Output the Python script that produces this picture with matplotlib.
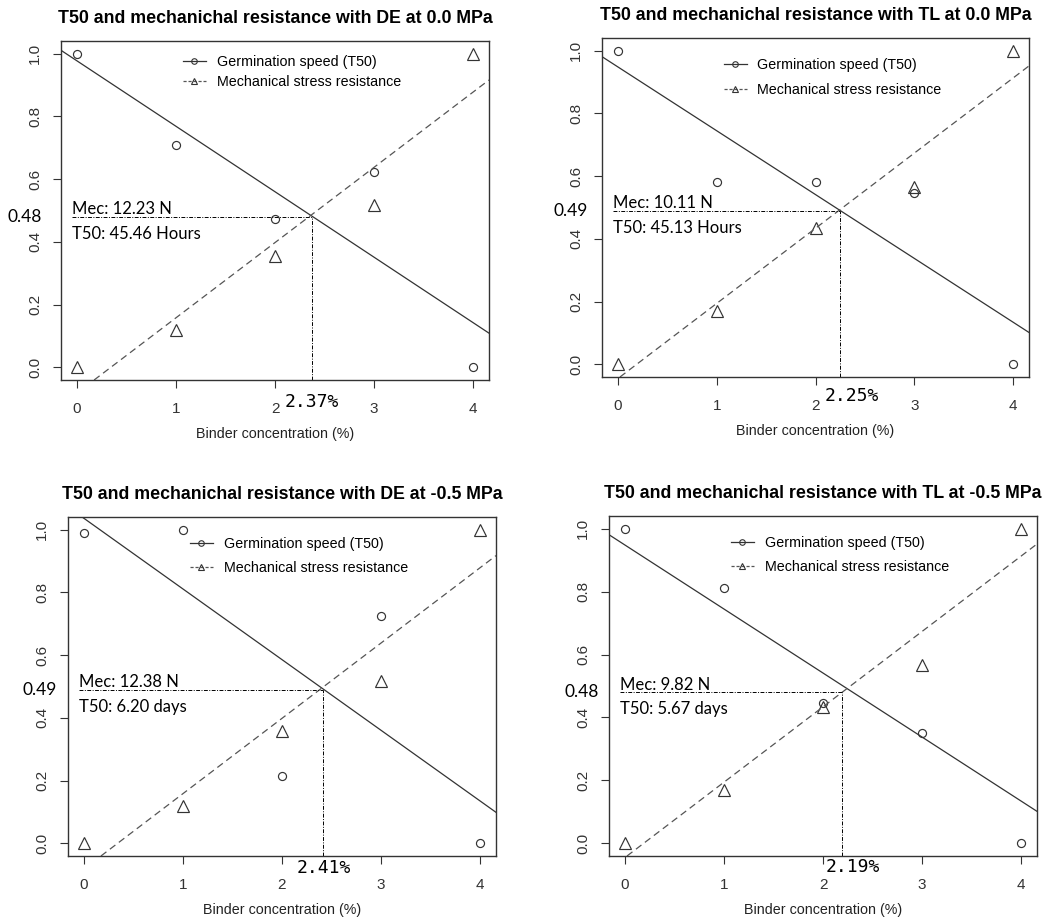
import matplotlib
matplotlib.use('Agg')
import matplotlib.pyplot as plt
import matplotlib.transforms as mtransforms
from matplotlib.lines import Line2D

# binder concentration (%)
binder = [0, 1, 2, 3, 4]

titles = [
    'T50 and mechanichal resistance with DE at 0.0 MPa',
    'T50 and mechanichal resistance with TL at 0.0 MPa',
    'T50 and mechanichal resistance with DE at -0.5 MPa',
    'T50 and mechanichal resistance with TL at -0.5 MPa',
]

# scaled germination speed (T50)
t50_de_00 = [1.0, 0.708, 0.472, 0.622, 0.0]
t50_tl_00 = [1.0, 0.580, 0.580, 0.546, 0.0]
t50_de_05 = [0.989, 1.0, 0.214, 0.726, 0.0]
t50_tl_05 = [1.0, 0.811, 0.446, 0.352, 0.0]

# scaled mechanical stress resistance
mec_de_00 = [0.0, 0.118, 0.355, 0.516, 1.0]
mec_tl_00 = [0.0, 0.170, 0.434, 0.565, 1.0]
mec_de_05 = [0.0, 0.118, 0.357, 0.518, 1.0]
mec_tl_05 = [0.0, 0.170, 0.434, 0.566, 1.0]

t50_all = [t50_de_00, t50_tl_00, t50_de_05, t50_tl_05]
mec_all = [mec_de_00, mec_tl_00, mec_de_05, mec_tl_05]

# regression lines (intercept, slope)
t50_fit = [(0.977, -0.2086), (0.948, -0.2034), (1.036, -0.2252), (0.948, -0.2034)]
mec_fit = [(-0.0818, 0.2398), (-0.0452, 0.2395), (-0.0814, 0.2400), (-0.0452, 0.2395)]

# crossing point of both lines
cross_x = [2.37, 2.25, 2.41, 2.19]
cross_y = [0.48, 0.49, 0.49, 0.48]
mec_txt = ['Mec: 12.23 N', 'Mec: 10.11 N', 'Mec: 12.38 N', 'Mec: 9.82 N']
t50_txt = ['T50: 45.46 Hours', 'T50: 45.13 Hours', 'T50: 6.20 days', 'T50: 5.67 days']

# panel layout (pixels of a 1052x921 figure)
W, H = 1052, 921
boxes = [(61, 41, 489, 380), (602, 38, 1029, 377), (68, 517, 496, 856), (609, 516, 1037, 856)]
ylab_gap = [19, 14, 11, 10]     # gap between value label and left axis
pct_dx = [0, 12, 1, 11]         # horizontal shift of the % label
pct_dy = [22, 19, 12, 11]       # % label centre below the axis
leg_y = [0.958, 0.942, 0.942, 0.942]
leg_sp = [0.42, 0.8, 0.72, 0.75]

SANS = 'Liberation Sans'
plt.rcParams['font.family'] = SANS
LINE = '#333333'
GREY = '#555555'

fig = plt.figure(figsize=(W / 100, H / 100), dpi=100)

for i in range(4):
    x0, y0, x1, y1 = boxes[i]
    ax = fig.add_axes([x0 / W, 1 - y1 / H, (x1 - x0) / W, (y1 - y0) / H])
    ax.set_xlim(-0.16, 4.16)
    ax.set_ylim(-0.04, 1.04)

    ax.plot(binder, t50_all[i], 'o', ms=5.8, mfc='none', mec=LINE, mew=0.85)
    ax.plot(binder, mec_all[i], '^', ms=8, mfc='none', mec=LINE, mew=0.85)
    ax.axline((0, t50_fit[i][0]), slope=t50_fit[i][1], color=LINE, lw=0.9)
    ax.axline((0, mec_fit[i][0]), slope=mec_fit[i][1], color=GREY, lw=0.9,
              dashes=(5.5, 3.5))

    # guides to the crossing point
    cx, cy = cross_x[i], cross_y[i]
    ax.plot([-0.05, cx], [cy, cy], color='black', lw=0.7, dashes=(4, 1.5, 1, 1.5))
    ax.plot([cx, cx], [-0.04, cy], color='black', lw=0.7, dashes=(4, 1.5, 1, 1.5))

    ax.annotate(mec_txt[i], (-0.05, cy), xytext=(0, 1.8), textcoords='offset points',
                ha='left', va='baseline', fontsize=12, family='Lato')
    ax.annotate(t50_txt[i], (-0.05, cy), xytext=(0, -6.5), textcoords='offset points',
                ha='left', va='top', fontsize=12, family='Lato')

    trans_y = mtransforms.blended_transform_factory(ax.transAxes, ax.transData)
    ax.text(-ylab_gap[i] / (x1 - x0), cy, '%.2f' % cy, transform=trans_y,
            ha='right', va='center', fontsize=12.5, family='Lato', clip_on=False)
    trans_x = mtransforms.blended_transform_factory(ax.transData, ax.transAxes)
    ax.annotate('%.2f%%' % cx, (cx, 0), xycoords=trans_x,
                xytext=(pct_dx[i] * 0.72, -pct_dy[i] * 0.72), textcoords='offset points',
                ha='center', va='center', fontsize=13, family='DejaVu Sans Mono',
                annotation_clip=False)

    ax.set_xticks(binder)
    ax.set_yticks([0.0, 0.2, 0.4, 0.6, 0.8, 1.0])
    ax.set_yticklabels(['0.0', '0.2', '0.4', '0.6', '0.8', '1.0'], rotation=90, va='center')
    ax.tick_params(length=6, width=0.8, color=LINE, labelsize=11, labelcolor='#333333')
    ax.tick_params(axis='x', pad=9.5)
    ax.tick_params(axis='y', pad=7.5)
    for sp in ax.spines.values():
        sp.set_color(LINE)
        sp.set_linewidth(1.0)

    ax.set_xlabel('Binder concentration (%)', fontsize=10.3, color='#222222', labelpad=8)
    ax.set_title(titles[i], fontsize=12.8, fontweight='bold', pad=13.3)

    handles = [
        Line2D([], [], color=LINE, lw=0.9, marker='o', ms=4, mfc='none', mec=LINE, mew=0.8),
        Line2D([], [], color=GREY, lw=0.9, dashes=(2.5, 1.5), marker='^', ms=5,
               mfc='none', mec=LINE, mew=0.8),
    ]
    ax.legend(handles, ['Germination speed (T50)', 'Mechanical stress resistance'],
              loc='upper left', bbox_to_anchor=(0.285, leg_y[i]), frameon=False,
              fontsize=10.3, handlelength=1.6, handletextpad=0.75,
              labelspacing=leg_sp[i], borderpad=0, borderaxespad=0)

fig.savefig('out.png', dpi=100)
